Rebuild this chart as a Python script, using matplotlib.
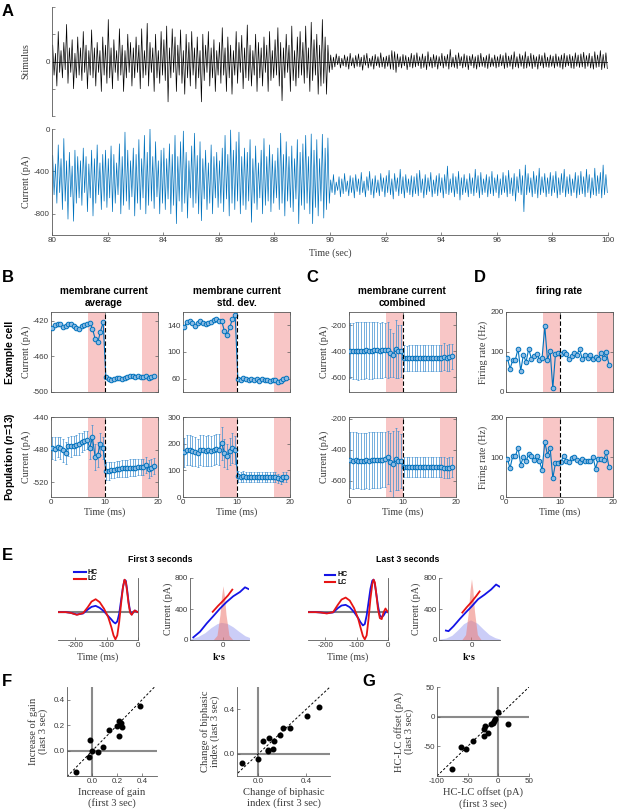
import numpy as np
import matplotlib
matplotlib.use('Agg')
import matplotlib.pyplot as plt
from matplotlib.lines import Line2D

# ---------------- DATA ----------------
# Panel A: stimulus extremes (x0.01), high contrast 80-90 s, low contrast 90-100 s
stim_hc = [30,-25,15,-45,55,-20,20,-30,35,-15,68,-40,25,-20,40,-50,15,-30,45,-25,
           25,-35,55,-20,30,-50,20,-25,58,-30,25,-45,35,-20,20,-55,45,-25,30,-40,
           77,-30,25,-50,40,-20,20,-35,60,-25,30,-55,20,-30,50,-20,35,-45,25,-30,
           45,-20,30,-50,60,-30,20,-25,70,-45,35,-20,25,-55,50,-30,20,-40,55,-25,
           40,-35,65,-74,25,-30,60,-20,45,-55,30,-25,58,-40,20,-60,50,-30,35,-45,
           55,-25,25,-50,45,-30,20,-74,50,-35,30,-20,55,-45,25,-30,40,-55,20,-25,
           35,-40,62,-25,25,-55,45,-30,30,-60,20,-25,55,-40,35,-20,48,-50,25,-30,
           67,-35,30,-45,20,-25,50,-55,35,-30,25,-45,45,-20,30,-55,55,-35,20,-30,
           40,-25,62,-45,35,-72,25,-30,50,-20,30,-55,65,-35,20,-45,45,-30,55,-25,
           35,-40,65,-30,25,-55,72,-35,40,-25,50,-60,30,-45,77,-40,45,-60,30,-20]
stim_lc = [12,-15,8,-10,14,-6,10,-12,6,-8,12,-10,9,-14,15,-8,7,-12,11,-9,
           14,-10,8,-16,12,-7,15,-12,6,-9,10,-14,13,-8,9,-11,16,-10,8,-13,
           10,-9,12,-14,20,-15,18,-20,14,-10,9,-12,13,-8,11,-15,8,-10,15,-12,
           12,-10,16,-8,9,-13,14,-11,10,-15,18,-9,8,-12,13,-10,11,-14,9,-8,
           15,-12,10,-9,13,-14,22,-10,8,-11,12,-13,16,-8,9,-12,14,-10,11,-15,
           10,-8,13,-12,9,-14,12,-10,15,-9,8,-11,11,-13,14,-10,7,-9,12,-12,
           9,-10,13,-8,11,-13,16,-11,10,-9,12,-14,18,-10,9,-12,14,-9,11,-13,
           18,-12,10,-9,15,-13,12,-10,9,-14,13,-8,11,-12,16,-10,8,-11,12,-9,
           10,-12,14,-9,9,-11,12,-14,15,-10,11,-8,13,-12,10,-13,16,-9,12,-11,
           14,-10,17,-13,11,-9,15,-12,10,-14,18,-11,12,-10,20,-15,13,-12,16,-13]
# Panel A: membrane current extremes (pA)
cur_hc = [-250,-620,-330,-700,-150,-600,-280,-760,-90,-680,-300,-850,-220,-640,-350,-870,-200,-700,-260,-650,
          -300,-720,-180,-600,-260,-780,-330,-650,-200,-820,-280,-700,-150,-620,-320,-760,-240,-680,-200,-740,
          -280,-650,-160,-780,-240,-700,-320,-620,-140,-800,-260,-720,-30,-680,-200,-760,-300,-640,-180,-820,
          -240,-700,-100,-760,-280,-650,-60,-800,-220,-720,0,-680,-260,-750,-120,-640,-300,-800,-200,-700,
          -180,-760,-280,-660,-140,-800,-240,-720,-60,-893,-260,-680,-120,-780,-20,-700,-220,-840,-300,-650,
          -160,-740,-40,-700,-250,-800,-120,-865,-280,-660,-200,-760,-320,-700,-150,-800,-260,-650,-220,-740,
          -300,-700,-180,-780,-60,-660,-240,-820,-10,-700,-200,-760,-120,-680,-30,-800,-260,-720,-180,-760,
          -220,-680,-100,-880,-280,-700,-160,-760,-320,-650,-200,-800,-90,-720,-260,-680,-150,-780,-240,-700,
          -300,-650,-180,-760,-40,-700,-240,-820,-120,-680,-260,-740,-160,-780,-280,-660,-100,-893,-220,-720,
          -140,-760,-60,-700,-260,-800,-47,-893,-200,-740,-100,-820,-280,-680,-50,-840,-180,-760,-85,-700]
cur_lc = [-480,-600,-430,-620,-500,-580,-450,-640,-470,-610,-420,-590,-490,-630,-440,-600,-460,-650,-430,-590,
          -470,-620,-410,-600,-490,-640,-450,-580,-400,-620,-470,-650,-440,-600,-480,-630,-420,-590,-460,-640,
          -440,-600,-390,-620,-470,-660,-420,-590,-460,-630,-380,-610,-450,-650,-430,-600,-470,-620,-440,-640,
          -450,-610,-420,-630,-390,-600,-470,-650,-430,-620,-460,-590,-410,-640,-480,-610,-440,-630,-420,-600,
          -460,-650,-430,-610,-350,-620,-470,-600,-420,-640,-450,-610,-400,-670,-460,-620,-430,-600,-470,-640,
          -420,-610,-460,-630,-380,-600,-440,-650,-410,-620,-470,-600,-430,-640,-450,-610,-400,-630,-460,-600,
          -430,-650,-470,-620,-410,-600,-440,-640,-390,-610,-460,-630,-420,-680,-450,-600,-380,-620,-440,-780,
          -340,-620,-420,-600,-460,-640,-400,-610,-440,-650,-370,-620,-450,-600,-420,-640,-460,-610,-410,-630,
          -440,-600,-400,-650,-460,-620,-420,-600,-380,-640,-450,-610,-430,-630,-470,-600,-410,-650,-440,-620,
          -400,-610,-450,-640,-380,-600,-430,-650,-460,-620,-370,-630,-440,-610,-410,-650,-340,-620,-430,-600]

# Panels B-D: 39 time bins (ms)
t_bins = np.arange(39) * 0.5 + 0.25
b_avg_cell = [-428,-425,-423,-424,-427,-426,-424,-424,-426,-428,-429,-426,-425,-423,
              -422,-429,-440,-444,-432,-421,
              -483,-485,-486,-485,-484,-484,-485,-484,-483,-482,-482,-483,-482,-483,-483,-482,-484,-483,-482]
b_std_cell = [138,145,146,143,139,143,146,144,142,143,145,148,149,147,
              146,131,126,137,150,156,
              60,58,61,60,58,60,58,59,57,59,58,58,57,58,58,55,56,59,61]
b_avg_pop = [-478,-479,-477,-478,-481,-484,-476,-476,-475,-474,-473,-471,-469,-468,
             -478,-465,-489,-486,-473,-478,
             -506,-506,-505,-505,-504,-504,-503,-503,-503,-502,-502,-502,-501,-501,-501,-499,-504,-502,-500]
b_avg_pop_err = [13,14,12,13,14,13,12,13,12,12,13,12,12,11,
                 14,15,16,15,14,13,
                 11,11,10,10,10,10,10,10,10,10,10,10,10,10,10,10,11,10,10]
b_std_pop = [168,175,176,174,170,165,176,175,172,175,173,176,180,178,
             202,165,152,171,184,177,
             77,76,77,76,75,76,75,76,75,75,74,75,75,74,75,71,66,74,75]
b_std_pop_err = [55,56,57,56,55,53,56,57,56,57,56,57,58,57,
                 62,52,48,52,55,53,
                 20,19,19,19,18,19,18,19,18,18,18,18,18,18,18,17,16,18,18]
c_cell = [-395,-398,-396,-400,-398,-395,-393,-397,-396,-393,-392,-395,-392,-390,
          -392,-415,-428,-386,-400,-398,
          -455,-455,-454,-455,-453,-454,-453,-453,-452,-452,-453,-452,-451,-452,-450,-444,-452,-448,-440]
c_cell_err = [215,218,220,222,220,218,215,220,222,218,215,212,214,210,
              215,185,170,225,205,200,
              100,98,99,100,101,99,100,98,99,100,101,99,100,99,100,105,100,102,98]
c_pop = [-467,-470,-468,-469,-471,-470,-468,-469,-467,-466,-468,-466,-464,-462,
         -448,-480,-490,-459,-469,-472,
         -510,-511,-510,-511,-512,-511,-512,-512,-511,-512,-512,-511,-512,-512,-512,-515,-518,-514,-510]
c_pop_err = [180,182,180,178,181,180,178,180,179,178,180,178,176,175,
             170,185,210,200,190,175,
             66,65,65,66,65,65,64,65,65,64,65,65,64,65,65,66,64,65,65]
d_cell = [86,58,79,81,108,53,93,75,108,83,90,96,81,86,
          164,81,103,9,96,97,
          94,100,96,82,90,97,93,108,82,93,86,92,82,87,82,98,85,100,68]
d_pop = [96,72,102,102,123,81,100,89,108,102,93,102,89,68,
         137,106,123,47,85,86,
         87,102,91,87,97,100,93,88,95,90,90,90,100,71,96,95,92,112,75]

# Panel E: temporal filters (normalized)
tf_first = [-255,-230,-215,-195,-175,-160,-148,-135,-122,-108,-95,-85,-78,-72,-66,-60,-54,-48,-43,-39,-35,-30,-25,-20,-15,-10,-5,0]
hc_first = [0,0,-0.02,-0.07,-0.04,0.08,0.16,0.19,0.13,0.02,-0.12,-0.22,-0.30,-0.34,-0.28,-0.05,0.35,0.75,0.97,0.95,0.70,0.30,0.02,-0.07,0.0,0.05,0.02,0.0]
lc_first = [0,0,-0.02,-0.08,-0.03,0.15,0.32,0.39,0.30,0.10,-0.15,-0.45,-0.70,-0.82,-0.70,-0.30,0.25,0.75,0.98,0.92,0.65,0.25,-0.02,-0.08,0.0,0.05,0.02,0.0]
tf_last = [-255,-230,-215,-195,-175,-160,-148,-135,-122,-108,-95,-88,-80,-74,-68,-62,-56,-50,-46,-42,-38,-32,-26,-20,-14,-8,-4,0]
hc_last = [0,0,-0.01,-0.03,-0.01,0.12,0.20,0.22,0.15,0.0,-0.18,-0.30,-0.40,-0.36,-0.10,0.30,0.70,0.95,0.98,0.85,0.60,0.20,-0.10,-0.15,-0.10,0.0,0.02,0.0]
lc_last = [0,0,-0.01,-0.04,0.0,0.22,0.38,0.44,0.35,0.12,-0.20,-0.45,-0.72,-0.82,-0.70,-0.20,0.40,0.85,0.98,0.90,0.60,0.10,-0.18,-0.21,0.0,0.11,0.05,0.0]
# Panel E: nonlinearities (k.s arbitrary units, current pA)
nl1_hc_x = [-2.97,-2.3,-1.63,-0.97,-0.3,0.37,1.03,1.7,2.2,2.53]
nl1_hc_y = [34,107,214,308,406,492,565,620,680,659]
nl1_lc_x = [-1.03,-0.5,0,0.5,0.93]
nl1_lc_y = [364,440,505,575,650]
nl2_hc_x = [-2.6,-2.33,-1.83,-1.17,-0.5,0,0.67,1.33,2.0,2.5,2.83]
nl2_hc_y = [122,114,177,274,366,430,526,585,652,716,690]
nl2_lc_x = [-0.93,-0.5,0,0.5,0.83]
nl2_lc_y = [354,420,490,570,627]
# stimulus distributions (scaled)
dist_lc_x = [-1.0,-0.6,-0.3,-0.15,0,0.15,0.3,0.6,1.0]
dist1_lc = [0,60,330,560,700,560,330,60,0]
dist2_lc = [0,70,380,640,790,640,380,70,0]
dist1_hc_x = [-3.3,-2.5,-1.8,-1.2,-0.6,-0.2,0.4,1.0,1.6,2.2,2.7]
dist1_hc = [15,45,95,160,210,228,215,170,110,55,30]
dist2_hc_x = [-3.3,-2.6,-2.0,-1.4,-0.8,-0.1,0.6,1.2,1.8,2.4,2.9]
dist2_hc = [10,25,60,130,210,260,215,140,70,30,12]

# Panel F/G scatter
gain_first = [-0.133,-0.03,-0.021,0.0,0.048,0.088,0.131,0.197,0.213,0.213,0.232,0.24,0.384]
gain_last = [-0.166,-0.047,0.084,0.0,-0.013,0.032,0.163,0.197,0.229,0.111,0.216,0.184,0.347]
bip_first = [-0.14,-0.005,0.042,0.087,0.079,0.079,0.121,0.132,0.182,0.205,0.266,0.41,0.51]
bip_last = [-0.083,-0.047,0.119,0.146,0.036,0.021,0.042,0.119,0.17,0.235,0.23,0.343,0.418]
off_first = [-1.1,15.3,-5.5,-7.7,-9.3,-12,-17.5,-21.3,-23,-24,-42,-53,-61,-75]
off_last = [7.9,-12.9,-3.4,-7.3,-10.1,-12.9,-27,-15.7,-20.2,-32.6,-41,-55,-51.7,-88.8]

# ---------------- STYLE ----------------
SANS = ['Liberation Sans', 'DejaVu Sans']
SERIF = ['Liberation Serif', 'DejaVu Serif']
plt.rcParams['font.family'] = SANS
plt.rcParams['axes.unicode_minus'] = False
plt.rcParams['mathtext.fontset'] = 'custom'
plt.rcParams['mathtext.it'] = 'Liberation Sans:italic:bold'
plt.rcParams['mathtext.rm'] = 'Liberation Sans:bold'
BLUE = '#0072BD'
EBLUE = '#3d8ed0'
TC = '#3a3a3a'
SC = '#5a5a5a'
TS = 5.8
LS = 7.2

W, H = 617, 809
fig = plt.figure(figsize=(W / 100, H / 100), dpi=100)


def box(x0, y0, x1, y1):
    return fig.add_axes([x0 / W, 1 - y1 / H, (x1 - x0) / W, (y1 - y0) / H])


def style(ax, spines=('left', 'bottom'), boxed=False):
    for s in ['left', 'right', 'top', 'bottom']:
        ax.spines[s].set_visible(s in spines)
        ax.spines[s].set_color(SC)
        ax.spines[s].set_linewidth(0.6)
    ax.tick_params(labelsize=TS, colors=SC, labelcolor=TC, width=0.5, length=2,
                   pad=1.5, direction='in', top=boxed, right=boxed)


def ylab(ax, text, xpx, axw, size=LS):
    ax.set_ylabel(text, family=SERIF, size=size, color=TC, va='center', linespacing=1.1)
    ax.yaxis.set_label_coords(xpx / axw, 0.5)


def xlab(ax, text, ypx, axh, size=LS, **kw):
    ax.set_xlabel(text, family=SERIF, size=size, color=TC, va='center', linespacing=1.15, **kw)
    ax.xaxis.set_label_coords(0.5, -ypx / axh)


def letter(x, y, s):
    fig.text(x / W, 1 - y / H, s, size=12, weight='bold', ha='left', va='center')


# ---------------- PANEL A ----------------
ax = box(52, 7, 608, 116)
style(ax, spines=('left',))
n1, n2 = len(stim_hc), len(stim_lc)
ts = np.concatenate([80 + (np.arange(n1) + 0.5) * 10 / n1, 90 + (np.arange(n2) + 0.5) * 10 / n2])
ax.plot(ts, np.array(stim_hc + stim_lc) / 100.0, color='k', lw=0.5)
ax.axhline(0, color='k', lw=0.5)
ax.set_xlim(80, 100)
ax.set_ylim(-1, 1)
ax.set_yticks([-1, -0.5, 0, 0.5, 1], labels=['', '', '0', '', ''])
ax.set_xticks([])
ylab(ax, 'Stimulus', -26, 556)

ax = box(52, 129, 608, 235)
style(ax)
m1, m2 = len(cur_hc), len(cur_lc)
tc = np.concatenate([80 + (np.arange(m1) + 0.5) * 10 / m1, 90 + (np.arange(m2) + 0.5) * 10 / m2])
ax.plot(tc, cur_hc + cur_lc, color=BLUE, lw=0.5)
ax.set_xlim(80, 100)
ax.set_ylim(-1000, 0)
ax.set_yticks([-800, -400, 0])
ax.set_xticks(np.arange(80, 101, 2))
ylab(ax, 'Current (pA)', -26, 556)
xlab(ax, 'Time (sec)', 18, 106)
letter(2, 11, 'A')

# ---------------- PANELS B-D ----------------
def series_panel(ax, y, err, ylim, yticks, bottom):
    style(ax, spines=('left', 'right', 'top', 'bottom'), boxed=True)
    ax.axvspan(7, 10, color='#f8c6c6', lw=0, zorder=0)
    ax.axvspan(17, 20, color='#f8c6c6', lw=0, zorder=0)
    if err is not None:
        ax.errorbar(t_bins, y, yerr=err, fmt='none', ecolor=EBLUE, elinewidth=0.5,
                    capsize=1.0, capthick=0.5, zorder=2)
    ax.plot(t_bins, y, '-o', color=BLUE, ms=3.3, mfc='#8dbbe3', mec=BLUE, mew=0.7,
            lw=0.8, zorder=3)
    ax.axvline(10, color='k', ls=(0, (4, 2)), lw=0.8, zorder=4)
    ax.set_xlim(0, 20)
    ax.set_ylim(*ylim)
    ax.set_yticks(yticks)
    ax.set_xticks([0, 10, 20])
    if bottom:
        xlab(ax, 'Time (ms)', 15, 80)
    else:
        ax.set_xticklabels([])


cols = [51, 183, 349, 506]
AW = 107
top_y = (312, 392)
bot_y = (417, 497)

a = box(cols[0], top_y[0], cols[0] + AW, top_y[1])
series_panel(a, b_avg_cell, None, (-500, -410), [-500, -460, -420], False)
ylab(a, 'Current (pA)', -25, AW)
a = box(cols[1], top_y[0], cols[1] + AW, top_y[1])
series_panel(a, b_std_cell, None, (40, 160), [60, 100, 140], False)
a = box(cols[2], top_y[0], cols[2] + AW, top_y[1])
series_panel(a, c_cell, c_cell_err, (-716, -97), [-600, -400, -200], False)
ylab(a, 'Current (pA)', -25, AW)
a = box(cols[3], top_y[0], cols[3] + AW, top_y[1])
series_panel(a, d_cell, None, (0, 200), [0, 100, 200], False)
ylab(a, 'Firing rate (Hz)', -23, AW)

a = box(cols[0], bot_y[0], cols[0] + AW, bot_y[1])
series_panel(a, b_avg_pop, b_avg_pop_err, (-538, -440), [-520, -480, -440], True)
ylab(a, 'Current (pA)', -25, AW)
a = box(cols[1], bot_y[0], cols[1] + AW, bot_y[1])
series_panel(a, b_std_pop, b_std_pop_err, (0, 300), [0, 100, 200, 300], True)
a = box(cols[2], bot_y[0], cols[2] + AW, bot_y[1])
series_panel(a, c_pop, c_pop_err, (-703, -190), [-600, -400, -200], True)
ylab(a, 'Current (pA)', -25, AW)
a = box(cols[3], bot_y[0], cols[3] + AW, bot_y[1])
series_panel(a, d_pop, None, (0, 200), [0, 100, 200], True)
ylab(a, 'Firing rate (Hz)', -23, AW)

letter(2, 278, 'B')
letter(306, 278, 'C')
letter(474, 278, 'D')
for xc, s in [(104, 'membrane current\naverage'), (237, 'membrane current\nstd. dev.'),
              (402, 'membrane current\ncombined'), (559, 'firing rate')]:
    yc = 297 if '\n' in s else 291
    fig.text(xc / W, 1 - yc / H, s, ha='center', va='center', weight='bold', size=7.2,
             linespacing=1.15)
fig.text(10 / W, 1 - 352 / H, 'Example cell', rotation=90, ha='center', va='center',
         weight='bold', size=7.5)
fig.text(10 / W, 1 - 457 / H, r'Population ($\mathit{n}$=13)', rotation=90, ha='center',
         va='center', weight='bold', size=7.5)

# ---------------- PANEL E ----------------
HCC = '#1414e6'
LCC = '#e61414'


def filt_panel(ax, t, hc, lc):
    style(ax, spines=('bottom', 'right'))
    ax.axhline(0, color='#808080', lw=1.5, zorder=1)
    ax.plot(t, hc, color=HCC, lw=1.3, zorder=2)
    ax.plot(t, lc, color=LCC, lw=1.3, zorder=3)
    ax.set_xlim(-255, 0)
    ax.set_ylim(-0.84, 1.03)
    ax.set_yticks([])
    ax.set_xticks([-200, -100, 0])
    ax.tick_params(right=False)
    xlab(ax, 'Time (ms)', 17, 62)


def nl_panel(ax, dhx, dh, dlx, dl, hx, hy, lx, ly, xlim):
    style(ax)
    ax.fill_between(dhx, 0, dh, color='#8c92ee', alpha=0.45, lw=0, zorder=1)
    ax.fill_between(dlx, 0, dl, color='#ee7a72', alpha=0.55, lw=0, zorder=2)
    ax.plot(hx, hy, color=HCC, lw=1.3, zorder=3)
    ax.plot(lx, ly, color=LCC, lw=1.3, zorder=4)
    ax.set_xlim(*xlim)
    ax.set_ylim(0, 800)
    ax.set_yticks([0, 400, 800])
    ax.set_xticks([0])
    ylab(ax, 'Current (pA)', -22, 59)
    ax.set_xlabel('k·s', family=SERIF, weight='bold', size=LS, va='center')
    ax.xaxis.set_label_coords(0.5, -17 / 62)


a = box(58, 578, 138, 640)
filt_panel(a, tf_first, hc_first, lc_first)
a = box(190, 578, 249, 640)
nl_panel(a, dist1_hc_x, dist1_hc, dist_lc_x, dist1_lc, nl1_hc_x, nl1_hc_y, nl1_lc_x, nl1_lc_y, (-3.3, 2.6))
a = box(308, 578, 388, 640)
filt_panel(a, tf_last, hc_last, lc_last)
a = box(439, 578, 500, 640)
nl_panel(a, dist2_hc_x, dist2_hc, dist_lc_x, dist2_lc, nl2_hc_x, nl2_hc_y, nl2_lc_x, nl2_lc_y, (-3.3, 2.9))

for (x0, x1, yh, yl) in [(74, 86, 572, 579), (325, 335, 575, 582)]:
    for yy, col, lab in [(yh, HCC, 'HC'), (yl, LCC, 'LC')]:
        fig.add_artist(Line2D([x0 / W, x1 / W], [1 - yy / H] * 2, color=col, lw=1.5))
        fig.text((x1 + 2) / W, 1 - yy / H, lab, size=5, weight='bold', va='center', ha='left')
letter(2, 556, 'E')
fig.text(160 / W, 1 - 559 / H, 'First 3 seconds', ha='center', va='center', weight='bold', size=6.3)
fig.text(408 / W, 1 - 559 / H, 'Last 3 seconds', ha='center', va='center', weight='bold', size=6.3)

# ---------------- PANELS F, G ----------------
def scat_panel(ax, x, y, xlim, ylim, xt, xtl, yt, ytl):
    style(ax)
    ax.axhline(0, color='#8a8a8a', lw=1.5, zorder=1)
    ax.axvline(0, color='#8a8a8a', lw=1.5, zorder=1)
    lo, hi = min(xlim[0], ylim[0]), max(xlim[1], ylim[1])
    ax.plot([lo, hi], [lo, hi], color='k', ls=(0, (2.5, 2)), lw=0.7, zorder=2)
    ax.plot(x, y, 'o', color='k', ms=3.3, zorder=3)
    ax.set_xlim(*xlim)
    ax.set_ylim(*ylim)
    ax.set_xticks(xt, labels=xtl)
    ax.set_yticks(yt, labels=ytl)


a = box(67, 687, 157, 776)
scat_panel(a, gain_first, gain_last, (-0.205, 0.52), (-0.2, 0.5), [0, 0.2, 0.4], ['0.0', '0.2', '0.4'],
           [0, 0.2, 0.4], ['0.0', '0.2', '0.4'])
ylab(a, 'Increase of gain\n(last 3 sec)', -29, 90, size=7.6)
xlab(a, 'Increase of gain\n(first 3 sec)', 22, 89, size=7.6)

a = box(237, 687, 330, 776)
scat_panel(a, bip_first, bip_last, (-0.18, 0.6), (-0.2, 0.6), [0, 0.4], ['0.0', '0.4'],
           [0, 0.4], ['0.0', '0.4'])
ylab(a, 'Change of biphasic\nindex (last 3 sec)', -27, 93, size=7.6)
xlab(a, 'Change of biphasic\nindex (first 3 sec)', 22, 89, size=7.6)

a = box(437, 687, 529, 776)
scat_panel(a, off_first, off_last, (-100, 50), (-100, 50), [-100, -50, 0, 50], ['-100', '-50', '0', '50'],
           [-100, -50, 0, 50], ['', '-50', '0', '50'])
ylab(a, 'HC-LC offset (pA)\n(last 3 sec)', -33, 92, size=7.6)
xlab(a, 'HC-LC offset (pA)\n(first 3 sec)', 22, 89, size=7.6)

letter(2, 681, 'F')
letter(362, 681, 'G')

fig.savefig('out.png', dpi=100)
